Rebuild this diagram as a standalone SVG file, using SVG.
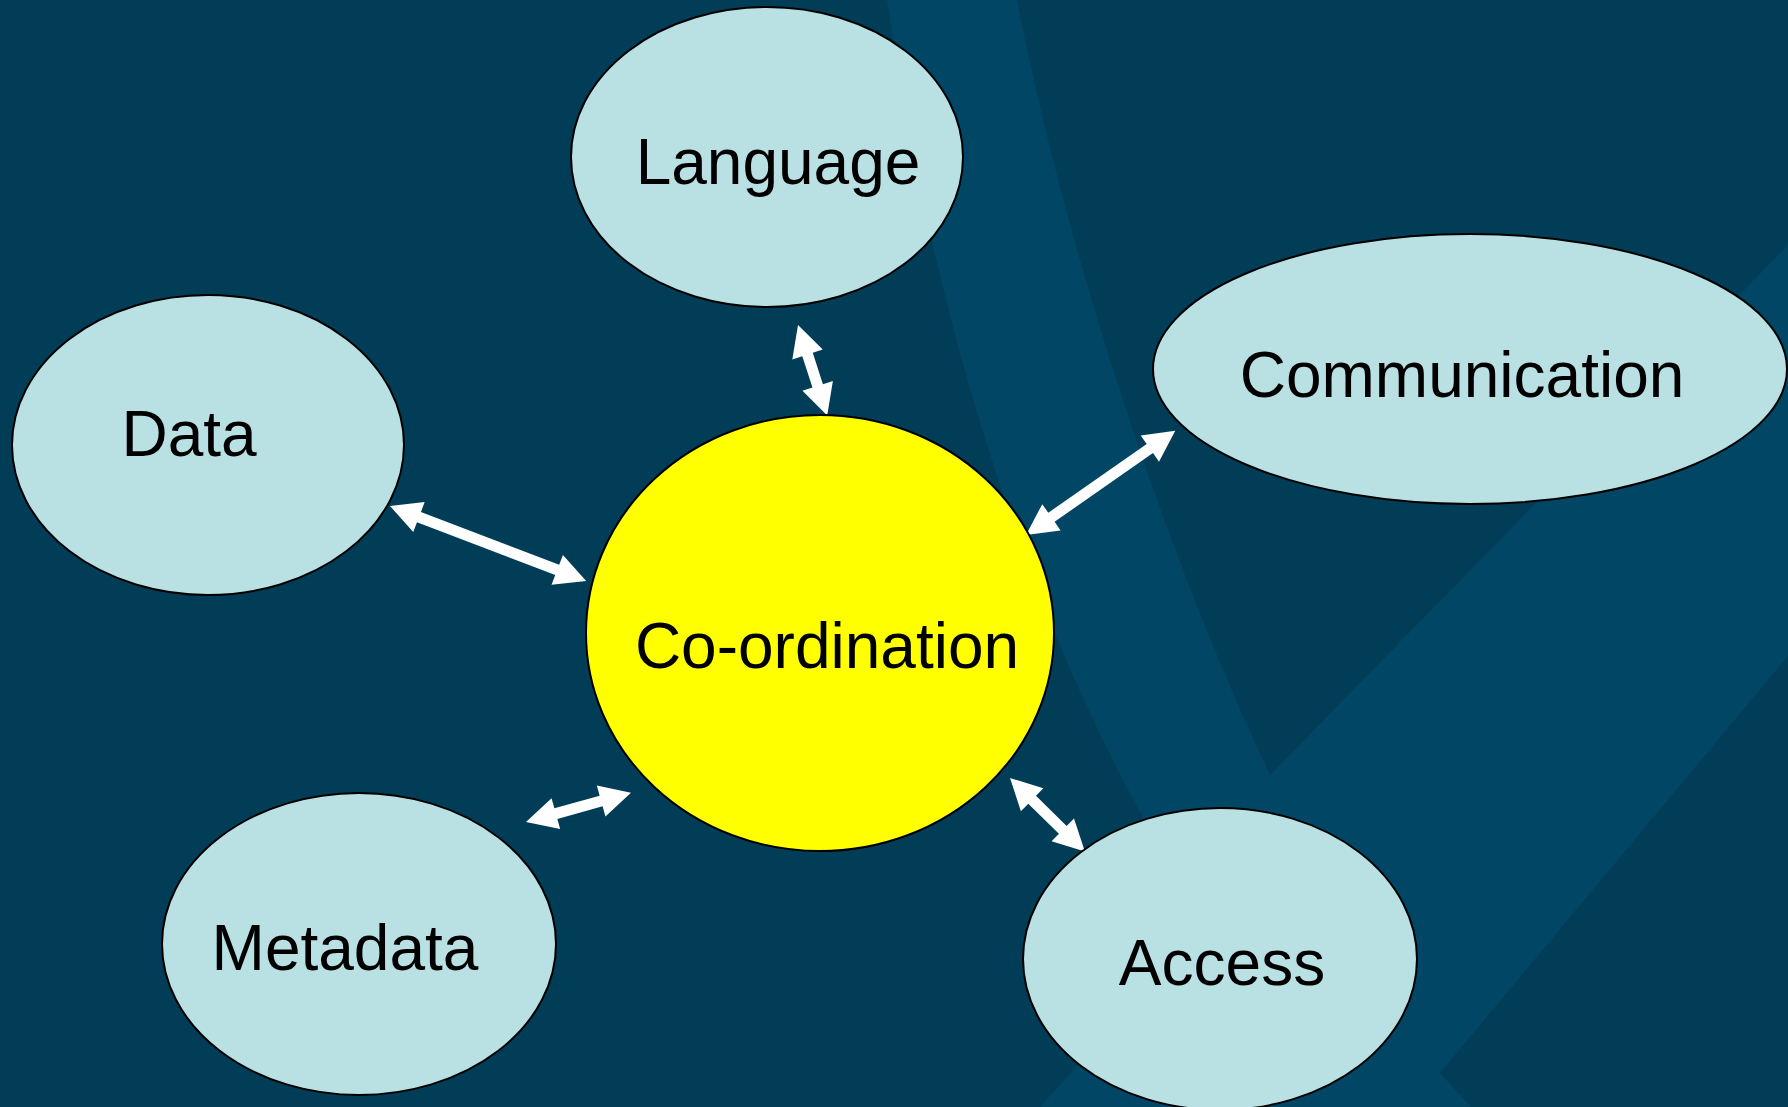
<svg xmlns="http://www.w3.org/2000/svg" width="1788" height="1107" viewBox="0 0 1788 1107">
<style>
.bg{fill:#023d57}
.bgl{fill:#014665}
.node ellipse{fill:#b9e0e3;stroke:#000;stroke-width:2}
.node.center ellipse{fill:#ffff00}
.node text{font-family:"Liberation Sans",Arial,sans-serif;font-size:64px;fill:#000;text-anchor:middle}
.arrow{fill:#fff}
</style>
<rect class="bg" x="0" y="0" width="1788" height="1107"/>
<path class="bgl" d="M887,0 L1017,0 C1060,220 1150,520 1270,775 L1788,245 L1788,656 L1440,1073 L1471,1107 L1040,1107 L1180,950 L1150,830 C1020,600 930,300 887,0 Z"/>
<g id="connectors">
<polygon class="arrow" transform="translate(798,325) rotate(72.1)" points="0,0 31,-16 31,-5.5 64,-5.5 64,-16 95,0 64,16 64,5.5 31,5.5 31,16"/>
<polygon class="arrow" transform="translate(1026,535) rotate(-34.9)" points="0,0 31,-16 31,-5.5 151,-5.5 151,-16 182,0 151,16 151,5.5 31,5.5 31,16"/>
<polygon class="arrow" transform="translate(390,506) rotate(20.9)" points="0,0 31,-16 31,-5.5 179,-5.5 179,-16 210,0 179,16 179,5.5 31,5.5 31,16"/>
<polygon class="arrow" transform="translate(526,822) rotate(-15.6)" points="0,0 31,-16 31,-5.5 78,-5.5 78,-16 109,0 78,16 78,5.5 31,5.5 31,16"/>
<polygon class="arrow" transform="translate(1010,778) rotate(44.5)" points="0,0 31,-16 31,-5.5 74,-5.5 74,-16 105,0 74,16 74,5.5 31,5.5 31,16"/>
</g>
<g id="language" class="node"><ellipse cx="767" cy="157" rx="196" ry="150"/><text x="778" y="184">Language</text></g>
<g id="communication" class="node"><ellipse cx="1470" cy="369" rx="317" ry="135"/><text x="1462" y="397">Communication</text></g>
<g id="data" class="node"><ellipse cx="208" cy="445" rx="196" ry="150"/><text x="189" y="456">Data</text></g>
<g id="coordination" class="node center"><ellipse cx="820" cy="633" rx="234" ry="218"/><text x="827" y="668">Co-ordination</text></g>
<g id="metadata" class="node"><ellipse cx="359" cy="944" rx="197" ry="151"/><text x="345" y="970">Metadata</text></g>
<g id="access" class="node"><ellipse cx="1220" cy="959" rx="197" ry="151"/><text x="1222" y="985">Access</text></g>
</svg>
